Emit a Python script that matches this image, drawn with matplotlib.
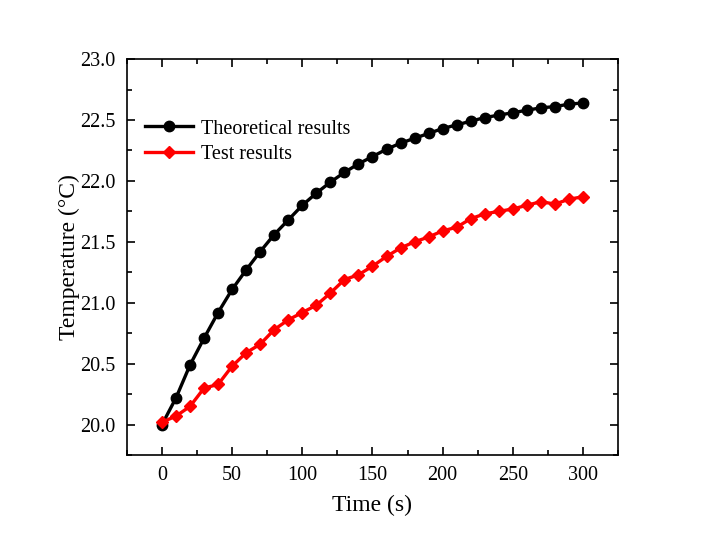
import numpy as np
import matplotlib
matplotlib.use('Agg')
import matplotlib.pyplot as plt
from matplotlib.ticker import MultipleLocator

plt.rcParams['font.family'] = ['Liberation Serif', 'DejaVu Serif']
plt.rcParams['mathtext.fontset'] = 'stix'

# Data
time_s = list(range(0, 301, 10))
theoretical = [20.00, 20.22, 20.49, 20.71, 20.92, 21.11, 21.27, 21.42, 21.56, 21.68,
               21.80, 21.90, 21.99, 22.07, 22.14, 22.20, 22.26, 22.31, 22.35, 22.39,
               22.43, 22.46, 22.49, 22.52, 22.54, 22.56, 22.58, 22.60, 22.61, 22.63,
               22.64]
test = [20.02, 20.07, 20.15, 20.30, 20.33, 20.48, 20.59, 20.66, 20.78, 20.86,
        20.92, 20.98, 21.08, 21.19, 21.23, 21.30, 21.38, 21.45, 21.50, 21.54,
        21.59, 21.62, 21.69, 21.73, 21.75, 21.77, 21.80, 21.83, 21.81, 21.85,
        21.87]

fig = plt.figure(figsize=(7.17, 5.47), dpi=100)
ax = fig.add_axes([0.177, 0.168, 0.685, 0.724])

ax.plot(time_s, theoretical, color='black', lw=2.4, marker='o', ms=7.5,
        label='Theoretical results')
ax.plot(time_s, test, color='red', lw=2.4, marker='D', ms=6.5,
        label='Test results')

ax.set_xlim(-25, 325)
ax.set_ylim(19.75, 23.0)
ax.xaxis.set_major_locator(MultipleLocator(50))
ax.xaxis.set_minor_locator(MultipleLocator(25))
ax.yaxis.set_major_locator(MultipleLocator(0.5))
ax.yaxis.set_minor_locator(MultipleLocator(0.25))
ax.yaxis.set_major_formatter(matplotlib.ticker.FormatStrFormatter('%.1f'))

ax.tick_params(which='both', direction='in', top=True, right=True,
               labeltop=False, labelright=False)
ax.tick_params(which='major', length=6, width=1.2, labelsize=14.5, pad=8)
ax.tick_params(which='minor', length=3.5, width=1.2)
for s in ax.spines.values():
    s.set_linewidth(1.2)

ax.set_xlabel('Time (s)', fontsize=17, labelpad=7)
ax.set_ylabel('Temperature (\u00b0C)', fontsize=17, labelpad=0)

ax.legend(loc='upper left', bbox_to_anchor=(0.02, 0.868), frameon=False,
          fontsize=14.5, handlelength=2.4, handletextpad=0.4, labelspacing=0.3,
          borderaxespad=0)

fig.savefig('out.png', dpi=100)
